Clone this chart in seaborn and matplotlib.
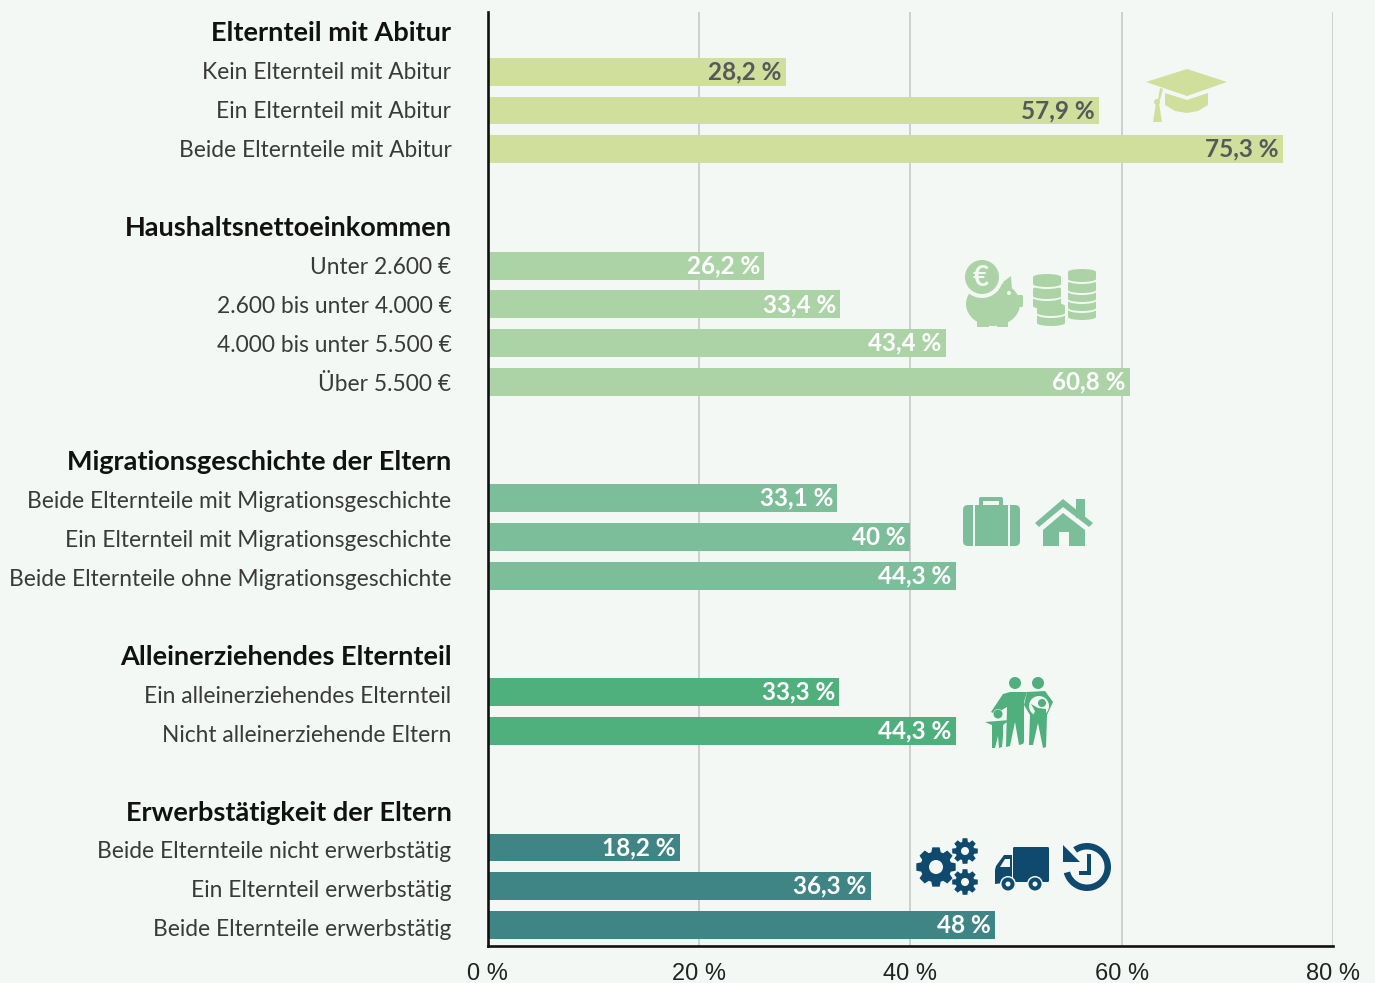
import numpy as np
import pandas as pd
import matplotlib
matplotlib.use("Agg")
import matplotlib.pyplot as plt
from matplotlib.patches import Circle, Ellipse, Polygon, Rectangle, FancyBboxPatch, Wedge
from matplotlib.transforms import ScaledTranslation
import seaborn as sns

# Anteile je Gruppe
abitur_labels = ["Kein Elternteil mit Abitur", "Ein Elternteil mit Abitur", "Beide Elternteile mit Abitur"]
abitur_values = [28.2, 57.9, 75.3]
einkommen_labels = ["Unter 2.600 €", "2.600 bis unter 4.000 €", "4.000 bis unter 5.500 €", "Über 5.500 €"]
einkommen_values = [26.2, 33.4, 43.4, 60.8]
migration_labels = ["Beide Elternteile mit Migrationsgeschichte", "Ein Elternteil mit Migrationsgeschichte",
                    "Beide Elternteile ohne Migrationsgeschichte"]
migration_values = [33.1, 40, 44.3]
allein_labels = ["Ein alleinerziehendes Elternteil", "Nicht alleinerziehende Eltern"]
allein_values = [33.3, 44.3]
erwerb_labels = ["Beide Elternteile nicht erwerbstätig", "Ein Elternteil erwerbstätig", "Beide Elternteile erwerbstätig"]
erwerb_values = [18.2, 36.3, 48]

headers = ["Elternteil mit Abitur", "Haushaltsnettoeinkommen", "Migrationsgeschichte der Eltern",
           "Alleinerziehendes Elternteil", "Erwerbstätigkeit der Eltern"]
all_labels = [abitur_labels, einkommen_labels, migration_labels, allein_labels, erwerb_labels]
all_values = [abitur_values, einkommen_values, migration_values, allein_values, erwerb_values]
colors = ["#D0DF9C", "#ABD3A6", "#7DBE9A", "#4FAF7D", "#3F8585"]
text_colors = ["#58585A", "white", "white", "white", "white"]
x_ticks = [0, 20, 40, 60, 80]

BG = "#F4F8F5"
W, H = 1375, 983

sns.set_theme(style="white")
plt.rcParams["font.family"] = ["Lato", "DejaVu Sans"]

# Zeilen: Überschrift, Kategorien, Leerzeile
rows = []
order = []
for i, h in enumerate(headers):
    order.append(h)
    for lab, val in zip(all_labels[i], all_values[i]):
        order.append(lab)
        rows.append({"label": lab, "value": val, "group": h})
    if i < len(headers) - 1:
        order.append(" " * (i + 1))
df = pd.DataFrame(rows)

fig = plt.figure(figsize=(W / 100, H / 100), dpi=100, facecolor=BG)
ax = fig.add_axes([487.5 / W, 1 - 946 / H, (1333 - 487.5) / W, (946 - 12) / H], facecolor=BG)

sns.barplot(data=df, x="value", y="label", hue="group", order=order, hue_order=headers,
            palette=colors, dodge=False, width=0.72, legend=False, saturation=1, linewidth=0, ax=ax)

ax.set_xlim(0, 80)
ax.set_ylim(len(order) - 1 + 0.54, -0.54)
ax.set_xlabel("")
ax.set_ylabel("")
ax.set_axisbelow(True)
ax.grid(axis="x", color="#C4C4C4", lw=1.1)
ax.grid(axis="y", visible=False)
sns.despine(ax=ax)
for side in ["left", "bottom"]:
    ax.spines[side].set_color("#111111")
    ax.spines[side].set_linewidth(1.9)
ax.set_xticks(x_ticks)
ax.set_xticklabels([f"{t} %" for t in x_ticks], fontsize=17, family="Liberation Sans", color="#222222")
ax.tick_params(axis="x", length=0, pad=12)
ax.tick_params(axis="y", length=0, pad=26)
for row, t in enumerate(ax.get_yticklabels()):
    bold = t.get_text() in headers
    t.set_fontweight("bold" if bold else "normal")
    t.set_fontsize(19.5 if bold else 16.4)
    t.set_color("#111111" if bold else "#3A3A3A")
    # Beschriftungen laufen etwas weiter auseinander als die Balken
    shift = (row - 1) * 0.2 - 1.5
    t.set_transform(t.get_transform() + ScaledTranslation(0, -shift / 100, fig.dpi_scale_trans))

for cont, tc in zip(ax.containers, text_colors):
    for b in cont:
        v = b.get_width()
        if np.isnan(v):
            continue
        txt = f"{v:g}".replace(".", ",") + " %"
        ax.annotate(txt, (v, b.get_y() + b.get_height() / 2), xytext=(-3.2, 0), textcoords="offset points",
                    ha="right", va="center", color=tc, fontsize=17.5, fontweight="bold")

# Symbole in Pixelkoordinaten
ic = fig.add_axes([0, 0, 1, 1], facecolor="none")
ic.set_xlim(0, W)
ic.set_ylim(H, 0)
ic.axis("off")


def poly(pts, c):
    ic.add_patch(Polygon(pts, closed=True, fc=c, ec="none"))


def rect(x0, y0, x1, y1, c):
    ic.add_patch(Rectangle((x0, y0), x1 - x0, y1 - y0, fc=c, ec="none"))


def disc(x, y, r, c):
    ic.add_patch(Circle((x, y), r, fc=c, ec="none"))


def rrect(x0, y0, x1, y1, c, rnd=3):
    ic.add_patch(FancyBboxPatch((x0 + rnd, y0 + rnd), x1 - x0 - 2 * rnd, y1 - y0 - 2 * rnd,
                                boxstyle=f"round,pad={rnd},rounding_size={rnd}", fc=c, ec="none"))


def coin(x0, x1, y, c):
    rect(x0, y, x1, y + 7, c)
    ic.add_patch(Ellipse(((x0 + x1) / 2, y), x1 - x0, 6, fc=c, ec="none"))
    ic.add_patch(Ellipse(((x0 + x1) / 2, y + 7), x1 - x0, 6, fc=c, ec="none"))


def coin_gap(x0, x1, y, c):
    ic.add_patch(Ellipse(((x0 + x1) / 2, y + 8), x1 - x0 + 2, 8, fc=BG, ec="none"))
    coin(x0, x1, y, c)


def gear(x, y, r_out, r_in, hole, c, teeth=8):
    step = 2 * np.pi / teeth
    pts = []
    for k in range(teeth):
        a = k * step
        for off, rr in [(-0.30, r_in), (-0.18, r_out), (0.18, r_out), (0.30, r_in)]:
            pts.append((x + rr * np.cos(a + off * step * 1.3), y + rr * np.sin(a + off * step * 1.3)))
    poly(pts, c)
    disc(x, y, hole, BG)


# Doktorhut
c = colors[0]
poly([(1187, 69), (1227, 82), (1187, 96), (1146, 82)], c)
poly([(1165, 93), (1187, 100), (1208, 93), (1208, 105), (1198, 111), (1187, 113), (1175, 111), (1165, 105)], c)
poly([(1160, 88), (1163, 89), (1160, 100), (1158, 100)], c)
disc(1157, 102, 3, c)
poly([(1156, 103), (1159, 103), (1162, 122), (1153, 122)], c)

# Sparschwein und Münzen
c = colors[1]
ic.add_patch(Ellipse((993, 304), 54, 44, fc=c, ec="none"))
poly([(1003, 282), (1011, 276), (1012, 290), (1005, 292)], c)
rrect(1017, 295, 1023, 307, c, 1.5)
rect(977, 316, 989, 327, c)
rect(997, 316, 1008, 327, c)
disc(1009, 293, 2, BG)
disc(982, 277, 21, BG)
disc(982, 277, 17, c)
ic.text(981, 277.5, "€", color=BG, fontsize=20, fontweight="bold", ha="center", va="center")
for yy in [302, 292, 280]:
    coin_gap(1033, 1061, yy - 3, c)
for yy in [310, 301, 292, 283, 272]:
    coin_gap(1068, 1096, yy, c)
coin_gap(1037, 1065, 316, c)
coin_gap(1037, 1065, 306, c)

# Koffer und Haus
c = colors[2]
rrect(979, 497, 1003, 510, c, 2)
rect(983, 501, 999, 505, BG)
rrect(963, 505, 1020, 546, c, 5)
rect(973, 505, 975, 546, BG)
rect(1008, 505, 1010, 546, BG)
rect(1076, 499, 1085, 518, c)
poly([(1063, 499), (1093, 523), (1089, 527), (1063, 507), (1039, 527), (1035, 523)], c)
poly([(1063, 513), (1085, 530), (1085, 546), (1043, 546), (1043, 530)], c)
rect(1059, 532, 1069, 546, BG)

# Familie
c = colors[3]
disc(1015, 683, 6, c)
disc(1038, 683, 6, c)
poly([(991, 712), (1003, 694), (1010, 692), (1027, 692), (1024, 702), (1024, 742), (1023, 744), (1019, 745),
      (1015, 722), (1010, 746), (1006, 747), (1007, 707), (995, 714)], c)
poly([(1027, 692), (1045, 691), (1053, 702), (1047, 715), (1046, 747), (1043, 748), (1038, 723), (1033, 745),
      (1029, 745), (1030, 715), (1024, 705)], c)
ic.add_patch(Ellipse((1039, 706), 20, 20, fc=BG, ec="none"))
disc(1042, 703, 4, c)
poly([(1031, 704), (1038, 708), (1046, 709), (1046, 716), (1033, 716), (1035, 711)], c)
disc(998, 714, 5, BG)
disc(998, 714, 4.5, c)
poly([(985, 722), (1010, 720), (1003, 725), (1003, 736), (1002, 747), (999, 748), (998, 736), (995, 748),
      (992, 748), (992, 725)], c)

# Zahnräder, Lastwagen, Uhr
c = "#0F4A6E"
gear(936, 867, 20, 15.5, 7, c)
gear(965, 851, 13, 9.5, 4, c)
gear(965, 882, 13, 9.5, 4, c)
rrect(1013, 847, 1049, 882, c, 1.5)
poly([(996, 866), (1004, 855), (1012, 855), (1012, 882), (995, 884), (995, 870)], c)
poly([(1000, 867), (1005, 859), (1010, 859), (1010, 867)], BG)
rect(1012, 855, 1013.5, 883, BG)
for wx in [1008, 1035]:
    disc(wx, 884, 8, BG)
    disc(wx, 884, 6.5, c)
    disc(wx, 884, 2.5, BG)
ic.add_patch(Wedge((1087, 867), 24, -125, 165, width=6.5, fc=c, ec="none"))
poly([(1063, 845), (1080, 862), (1063, 862)], c)
rect(1087, 854, 1091, 874, c)
rect(1079, 871, 1091, 874.5, c)

fig.savefig("out.png", dpi=100, facecolor=BG)
